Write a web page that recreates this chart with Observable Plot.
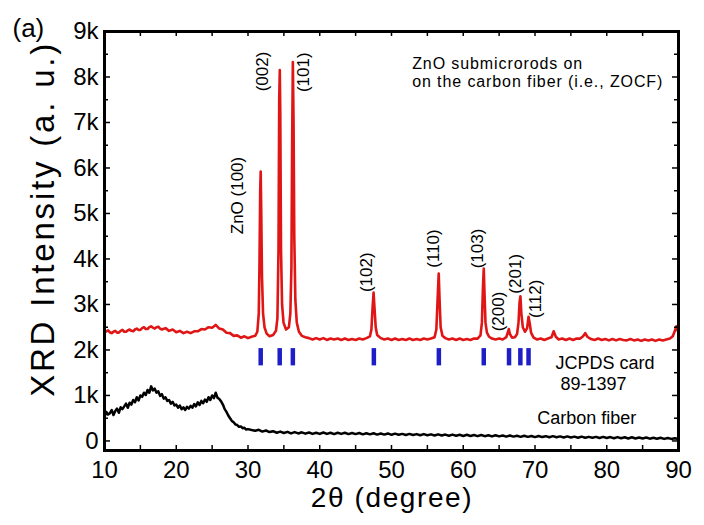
<!DOCTYPE html>
<html><head><meta charset="utf-8">
<script src="https://cdn.jsdelivr.net/npm/d3@7"></script>
<script src="https://cdn.jsdelivr.net/npm/@observablehq/plot@0.6"></script>
<style>body{margin:0;background:#fff}#chart{width:704px;height:525px}</style>
</head><body><div id="chart"></div>
<script>
// ZnO submicrorods on carbon fiber (ZOCF) pattern: [2theta, intensity]
const zocf = [[10,2380],[10.25,2410],[10.5,2430],[10.75,2390],[11,2370],[11.25,2400],[11.5,2420],[11.75,2380],[12,2380],[12.25,2420],[12.5,2440],[12.75,2400],[13,2400],[13.25,2430],[13.5,2450],[13.75,2420],[14,2410],[14.25,2450],[14.5,2470],[14.75,2440],[15,2440],[15.25,2480],[15.5,2500],[15.75,2460],[16,2460],[16.25,2500],[16.5,2520],[16.75,2490],[17,2470],[17.25,2500],[17.5,2510],[17.75,2470],[18,2450],[18.5,2480],[19,2420],[19.5,2450],[20,2390],[20.5,2420],[21,2370],[21.5,2400],[22,2370],[22.5,2410],[23,2410],[23.5,2460],[24,2450],[24.5,2500],[25,2490],[25.5,2550],[26,2470],[26.5,2450],[27,2380],[27.5,2370],[28,2310],[28.5,2320],[29,2270],[29.5,2300],[30,2260],[30.5,2290],[31,2310],[31.3,2400],[31.5,2800],[31.6,3900],[31.7,5500],[31.77,5920],[31.85,5000],[31.95,3600],[32.1,2800],[32.3,2500],[32.6,2360],[33,2300],[33.5,2330],[33.9,2420],[34.1,2700],[34.25,4200],[34.35,7500],[34.43,8150],[34.5,7200],[34.6,4200],[34.75,3000],[34.95,2600],[35.3,2450],[35.7,2500],[35.9,2800],[36.05,3800],[36.15,6500],[36.25,8330],[36.35,7000],[36.45,4500],[36.6,3100],[36.8,2600],[37.1,2400],[37.5,2310],[38,2280],[38.5,2260],[39,2230],[39.5,2260],[40,2230],[40.5,2260],[41,2220],[41.5,2250],[42,2230],[42.5,2250],[43,2220],[43.5,2250],[44,2220],[44.5,2240],[45,2220],[45.5,2250],[46,2230],[46.5,2260],[47,2300],[47.2,2450],[47.35,2900],[47.5,3260],[47.62,2950],[47.8,2500],[48,2330],[48.5,2260],[49,2230],[49.5,2250],[50,2220],[50.5,2250],[51,2220],[51.5,2240],[52,2220],[52.5,2250],[53,2220],[53.5,2240],[54,2220],[54.5,2250],[55,2230],[55.5,2250],[56,2280],[56.25,2450],[56.45,3200],[56.58,3680],[56.7,3100],[56.85,2500],[57.1,2310],[57.5,2260],[58,2230],[58.5,2250],[59,2220],[59.5,2250],[60,2220],[60.5,2240],[61,2220],[61.5,2250],[62,2250],[62.4,2320],[62.6,2600],[62.75,3400],[62.86,3790],[62.97,3200],[63.1,2600],[63.3,2380],[63.6,2290],[64,2250],[64.5,2230],[65,2250],[65.5,2230],[66,2280],[66.2,2380],[66.35,2460],[66.5,2350],[66.8,2270],[67.2,2280],[67.5,2350],[67.7,2600],[67.85,3050],[67.97,3180],[68.1,2800],[68.3,2500],[68.6,2400],[68.9,2480],[69.1,2730],[69.25,2600],[69.45,2380],[69.8,2270],[70.3,2230],[70.8,2250],[71.3,2220],[71.8,2250],[72.3,2280],[72.6,2410],[72.9,2290],[73.3,2230],[73.8,2250],[74.3,2220],[74.8,2250],[75.3,2220],[75.8,2250],[76.3,2250],[76.7,2300],[77,2370],[77.3,2290],[77.8,2240],[78.3,2220],[78.8,2250],[79.3,2220],[79.8,2240],[80.3,2210],[80.8,2240],[81.3,2210],[81.8,2240],[82.3,2220],[82.8,2210],[83.3,2240],[83.8,2210],[84.3,2230],[84.8,2200],[85.3,2230],[85.8,2210],[86.3,2230],[86.8,2200],[87.3,2230],[87.8,2210],[88.3,2230],[88.8,2250],[89.2,2300],[89.5,2420],[89.7,2520],[89.85,2450],[90,2380]];

// bare carbon fiber pattern: [2theta, intensity]
const carbon = [[10,520],[10.25,640],[10.5,580],[10.75,610],[11,680],[11.25,570],[11.5,660],[11.75,710],[12,620],[12.25,740],[12.5,700],[12.75,760],[13,820],[13.25,730],[13.5,840],[13.75,800],[14,900],[14.25,850],[14.5,960],[14.75,890],[15,1000],[15.25,970],[15.5,1060],[15.75,1010],[16,1120],[16.25,1060],[16.5,1200],[16.75,1110],[17,1150],[17.25,1060],[17.5,1090],[17.75,990],[18,1030],[18.25,930],[18.5,960],[18.75,880],[19,900],[19.25,820],[19.5,860],[19.75,780],[20,800],[20.25,730],[20.5,780],[20.75,700],[21,740],[21.25,680],[21.5,750],[21.75,710],[22,770],[22.25,730],[22.5,810],[22.75,760],[23,850],[23.25,790],[23.5,880],[23.75,830],[24,910],[24.25,860],[24.5,960],[24.75,900],[25,1000],[25.25,940],[25.5,1060],[25.75,950],[26,920],[26.25,870],[26.5,800],[26.75,700],[27,640],[27.25,560],[27.5,500],[27.75,440],[28,410],[28.25,360],[28.5,350],[28.75,310],[29,320],[29.25,280],[29.5,290],[29.75,250],[30,260],[30.5,240],[31,225],[31.5,245],[32,205],[32.5,230],[33,195],[33.5,215],[34,180],[34.5,205],[35,175],[35.5,200],[36,165],[36.5,195],[37,165],[37.5,190],[38,160],[38.5,185],[39,155],[39.5,180],[40,155],[40.5,185],[41,155],[41.5,180],[42,150],[42.5,180],[43,155],[43.5,180],[44,150],[44.5,175],[45,150],[45.5,175],[46,145],[46.5,170],[47,145],[47.5,170],[48,140],[48.5,165],[49,140],[49.5,165],[50,135],[50.5,160],[51,135],[51.5,155],[52,130],[52.5,155],[53,130],[53.5,150],[54,125],[54.5,150],[55,125],[55.5,145],[56,120],[56.5,145],[57,120],[57.5,140],[58,115],[58.5,140],[59,115],[59.5,135],[60,110],[60.5,135],[61,110],[61.5,130],[62,105],[62.5,130],[63,105],[63.5,125],[64,100],[64.5,125],[65,100],[65.5,120],[66,95],[66.5,120],[67,95],[67.5,115],[68,90],[68.5,115],[69,90],[69.5,110],[70,85],[70.5,110],[71,85],[71.5,105],[72,80],[72.5,105],[73,80],[73.5,100],[74,75],[74.5,100],[75,75],[75.5,95],[76,70],[76.5,95],[77,70],[77.5,90],[78,70],[78.5,90],[79,65],[79.5,90],[80,65],[80.5,85],[81,60],[81.5,85],[82,60],[82.5,80],[83,55],[83.5,80],[84,55],[84.5,75],[85,55],[85.5,75],[86,50],[86.5,70],[87,50],[87.5,70],[88,45],[88.5,65],[89,45],[89.5,60],[90,40]];

// JCPDS card 89-1397 reference positions
const jcpds = [31.77, 34.42, 36.25, 47.54, 56.6, 62.86, 66.38, 67.96, 69.1];
const jcpdsLow = 1650, jcpdsHigh = 2030;

// peak labels: [text, x, y]
const peakLabels = [["ZnO (100)",28.49,5395],["(002)",31.98,8121],["(101)",37.78,8105],["(102)",46.52,3709],["(110)",55.9,4230],["(103)",61.94,4230],["(200)",64.96,2846],["(201)",67.28,3674],["(112)",70.07,3125]];

// annotations: [text, x, y, fontSize]
const notes = [["ZnO submicrorods on",52.88,8292,16],["on the carbon fiber (i.e., ZOCF)",52.88,7888,16],["JCPDS card",72.86,1714,18],["89-1397",73.55,1237,18],["Carbon fiber",70.31,489,18]];

const xMajor = [10,20,30,40,50,60,70,80,90];
const xMinor = [15,25,35,45,55,65,75,85];
const yMajor = [0,1000,2000,3000,4000,5000,6000,7000,8000,9000];
const yMinor = [500,1500,2500,3500,4500,5500,6500,7500,8500];
const xTitle = "2θ (degree)";
const yTitle = "XRD Intensity (a. u.)";
const panel = "(a)";

const W = 704, H = 525, mL = 104, mR = 26, mT = 31, mB = 75;
const pw = W - mL - mR, ph = H - mT - mB;
const font = "'Liberation Sans', Arial, sans-serif";

const chart = Plot.plot({
  width: W, height: H,
  marginLeft: mL, marginRight: mR, marginTop: mT, marginBottom: mB,
  style: {fontFamily: font, fontSize: "24px", color: "#000", background: "#fff"},
  x: {domain: [10, 90]},
  y: {domain: [-210, 9000]},
  marks: [
    Plot.axisX({ticks: xMajor, tickSize: 0, tickPadding: 10, tickFormat: d => String(d), label: null, fontFamily: font}),
    Plot.axisY({ticks: yMajor, tickSize: 0, tickPadding: 6, tickFormat: d => d === 0 ? "0" : (d/1000) + "k", label: null, fontFamily: font}),
    Plot.line(carbon, {x: d => d[0], y: d => d[1], stroke: "#000", strokeWidth: 2.5}),
    Plot.line(zocf, {x: d => d[0], y: d => d[1], stroke: "#e01515", strokeWidth: 2.6}),
    Plot.ruleX(jcpds, {x: d => d, y1: jcpdsLow, y2: jcpdsHigh, stroke: "#1e1ec8", strokeWidth: 4.5}),
    // inward ticks
    Plot.tickY(yMajor, {y: d => d, insetRight: pw - 6, stroke: "#000", strokeWidth: 1.5}),
    Plot.tickY(yMinor, {y: d => d, insetRight: pw - 4, stroke: "#000", strokeWidth: 1.5}),
    Plot.tickY(yMajor, {y: d => d, insetLeft: pw - 6, stroke: "#000", strokeWidth: 1.5}),
    Plot.tickY(yMinor, {y: d => d, insetLeft: pw - 4, stroke: "#000", strokeWidth: 1.5}),
    Plot.tickX(xMajor.concat(xMinor), {x: d => d, insetTop: ph - 5, stroke: "#000", strokeWidth: 1.5}),
    Plot.tickX(xMajor.concat(xMinor), {x: d => d, insetBottom: ph - 5, stroke: "#000", strokeWidth: 1.5}),
    Plot.frame({stroke: "#000", strokeWidth: 3}),
    Plot.text(peakLabels, {x: d => d[1], y: d => d[2], text: d => d[0], rotate: -90, fontSize: 17, fontFamily: font, fill: "#000", textAnchor: "middle", lineAnchor: "middle"}),
    Plot.text(notes, {x: d => d[1], y: d => d[2], text: d => d[0], fontSize: d => d[3], fontFamily: font, fill: "#000", textAnchor: "start", lineAnchor: "middle"}),
    Plot.text([yTitle], {frameAnchor: "left", y: 4881, text: d => d, rotate: -90, dx: -61, fontSize: 33, fontFamily: font, fill: "#000", textAnchor: "middle", lineAnchor: "middle"}),
    Plot.text([xTitle], {frameAnchor: "bottom", x: 50.07, text: d => d, dy: 48, fontSize: 28, fontFamily: font, fill: "#000", textAnchor: "middle", lineAnchor: "middle"}),
    Plot.text([panel], {frameAnchor: "top-left", text: d => d, dx: -92, dy: -3, fontSize: 26, fontFamily: font, fill: "#000", textAnchor: "start", lineAnchor: "middle"})
  ]
});
document.getElementById("chart").appendChild(chart);

const spacing = {};
spacing[yTitle] = 2.8; spacing[xTitle] = 1.6;
spacing["ZnO submicrorods on"] = 0.9; spacing["on the carbon fiber (i.e., ZOCF)"] = 0.9;
d3.select(chart).selectAll("text").each(function () {
  const t = this.textContent;
  if (spacing[t] != null) this.setAttribute("letter-spacing", spacing[t]);
});
</script></body></html>
